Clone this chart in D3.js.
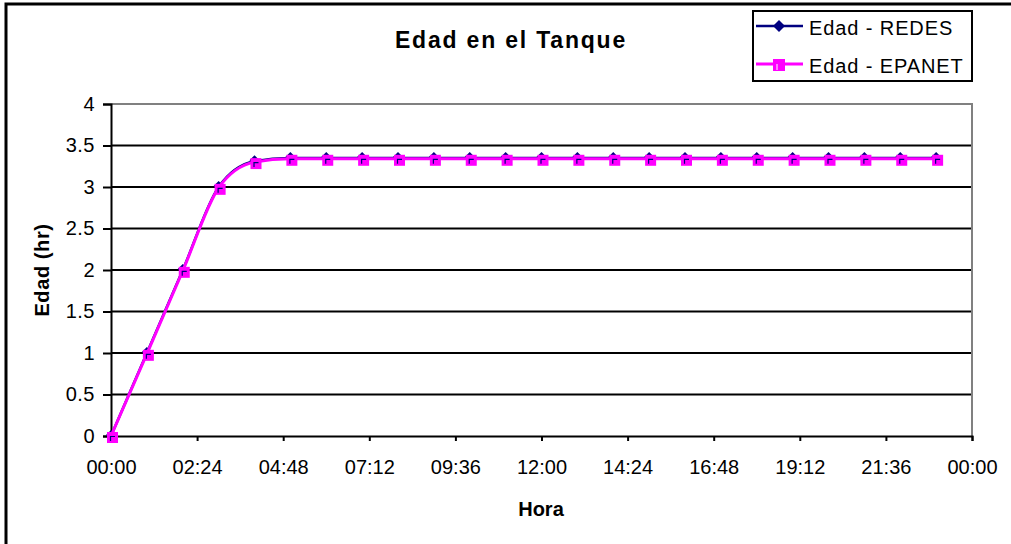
<!DOCTYPE html>
<html>
<head>
<meta charset="utf-8">
<script src="https://cdn.jsdelivr.net/npm/d3@7"></script>
<style>
  html, body { margin: 0; padding: 0; background: #fff; }
  svg { display: block; font-family: Arial, "Liberation Sans", sans-serif; }
</style>
</head>
<body>
<svg id="chart" width="1011" height="544"></svg>
<script>
// Hours of the simulation (one reading per hour)
const hours = [0, 1, 2, 3, 4, 5, 6, 7, 8, 9, 10, 11, 12, 13, 14, 15, 16, 17, 18, 19, 20, 21, 22, 23];

// Water age in the tank (hr)
const edadRedes  = [0, 1.00, 2.00, 3.00, 3.31, 3.35, 3.35, 3.35, 3.35, 3.35, 3.35, 3.35,
                    3.35, 3.35, 3.35, 3.35, 3.35, 3.35, 3.35, 3.35, 3.35, 3.35, 3.35, 3.35];
const edadEpanet = [0, 0.99, 1.99, 2.99, 3.30, 3.34, 3.34, 3.34, 3.34, 3.34, 3.34, 3.34,
                    3.34, 3.34, 3.34, 3.34, 3.34, 3.34, 3.34, 3.34, 3.34, 3.34, 3.34, 3.34];

// Axis ticks
const xTickHours  = [0, 2.4, 4.8, 7.2, 9.6, 12, 14.4, 16.8, 19.2, 21.6, 24];
const xTickLabels = ["00:00", "02:24", "04:48", "07:12", "09:36", "12:00", "14:24", "16:48", "19:12", "21:36", "00:00"];
const yTicks      = [0, 0.5, 1, 1.5, 2, 2.5, 3, 3.5, 4];

const seriesNames = ["Edad - REDES", "Edad - EPANET"];

const svg = d3.select("#chart");

// Outer chart frame
svg.append("rect")
  .attr("x", 6).attr("y", 4).attr("width", 1030).attr("height", 570)
  .attr("fill", "#fff").attr("stroke", "#000").attr("stroke-width", 3);

const plot = { left: 111, right: 972, top: 104, bottom: 436 };

const x = d3.scaleLinear().domain([0, 24]).range([plot.left, plot.right]);
const y = d3.scaleLinear().domain([0, 4]).range([plot.bottom, plot.top]);

// Horizontal gridlines
svg.append("g")
  .selectAll("line")
  .data(yTicks.filter(v => v > 0 && v < 4))
  .join("line")
  .attr("x1", plot.left).attr("x2", plot.right)
  .attr("y1", d => y(d)).attr("y2", d => y(d))
  .attr("stroke", "#000").attr("stroke-width", 2);

// Plot-area border (top and right)
svg.append("path")
  .attr("d", `M${plot.left},${plot.top}H${plot.right}V${plot.bottom}`)
  .attr("fill", "none").attr("stroke", "#808080").attr("stroke-width", 2);

// Y axis
const yAxis = svg.append("g")
  .attr("transform", `translate(${plot.left},0)`)
  .call(d3.axisLeft(y).tickValues(yTicks).tickSize(8).tickPadding(8).tickFormat(d3.format("")));
yAxis.select(".domain").attr("stroke", "#000").attr("stroke-width", 2);
yAxis.selectAll(".tick line").attr("stroke", "#000").attr("stroke-width", 2);
yAxis.selectAll(".tick text")
  .attr("font-size", 20).attr("fill", "#000").attr("letter-spacing", 0.5)
  .attr("font-family", "Arial, 'Liberation Sans', sans-serif");

// X axis
const xAxis = svg.append("g")
  .attr("transform", `translate(0,${plot.bottom})`)
  .call(d3.axisBottom(x).tickValues(xTickHours).tickSize(5).tickPadding(19)
    .tickFormat((d, i) => xTickLabels[i]));
xAxis.select(".domain").attr("stroke", "#000").attr("stroke-width", 2);
xAxis.selectAll(".tick line").attr("stroke", "#000").attr("stroke-width", 2);
xAxis.selectAll(".tick text")
  .attr("font-size", 20).attr("fill", "#000")
  .attr("font-family", "Arial, 'Liberation Sans', sans-serif");

// Series lines
const line = d3.line().x(d => x(d[0])).y(d => y(d[1])).curve(d3.curveMonotoneX);
const redesPts  = hours.map((h, i) => [h, edadRedes[i]]);
const epanetPts = hours.map((h, i) => [h, edadEpanet[i]]);

svg.append("path").datum(redesPts)
  .attr("d", line).attr("fill", "none")
  .attr("stroke", "#000080").attr("stroke-width", 2.5);

const diamond = (cx, cy, r) => `M${cx},${cy - r}L${cx + r},${cy}L${cx},${cy + r}L${cx - r},${cy}Z`;

svg.append("g").selectAll("path")
  .data(redesPts).join("path")
  .attr("d", d => diamond(x(d[0]), y(d[1]) - 1, 5))
  .attr("fill", "#000080");

svg.append("path").datum(epanetPts)
  .attr("d", line).attr("fill", "none")
  .attr("stroke", "#ff00ff").attr("stroke-width", 3);

// Square markers with a small inner corner stroke
function squareMarker(g, cx, cy) {
  g.append("rect")
    .attr("x", cx - 4).attr("y", cy - 4).attr("width", 11).attr("height", 11)
    .attr("fill", "#ff00ff");
  g.append("path")
    .attr("d", `M${cx - 0.5},${cy + 5}V${cy + 0.5}H${cx + 4}`)
    .attr("fill", "none").attr("stroke", "#000080").attr("stroke-width", 1.2);
}
const sq = svg.append("g");
epanetPts.forEach(d => squareMarker(sq, x(d[0]), y(d[1])));

// Titles
svg.append("text")
  .attr("x", 511).attr("y", 48)
  .attr("text-anchor", "middle")
  .attr("font-size", 23).attr("font-weight", "bold")
  .attr("letter-spacing", 1.8)
  .text("Edad en el Tanque");

svg.append("text")
  .attr("x", 541).attr("y", 516)
  .attr("text-anchor", "middle")
  .attr("font-size", 20).attr("font-weight", "bold")
  .text("Hora");

svg.append("text")
  .attr("transform", "translate(49,270) rotate(-90)")
  .attr("text-anchor", "middle")
  .attr("font-size", 20).attr("font-weight", "bold")
  .attr("letter-spacing", 0.6)
  .text("Edad (hr)");

// Legend
const legend = svg.append("g");
legend.append("rect")
  .attr("x", 753).attr("y", 11).attr("width", 219).attr("height", 70)
  .attr("fill", "#fff").attr("stroke", "#000").attr("stroke-width", 2);

const legendRows = [26, 64];
legendRows.forEach((ly, i) => {
  legend.append("line")
    .attr("x1", 756).attr("x2", 803).attr("y1", ly).attr("y2", ly)
    .attr("stroke", i === 0 ? "#000080" : "#ff00ff")
    .attr("stroke-width", i === 0 ? 2.5 : 3);
  if (i === 0) {
    legend.append("path").attr("d", diamond(779, ly, 6)).attr("fill", "#000080");
  } else {
    legend.append("rect")
      .attr("x", 773).attr("y", ly - 5).attr("width", 12).attr("height", 12)
      .attr("fill", "#ff00ff");
    legend.append("path")
      .attr("d", `M777,${ly + 6}V${ly}`)
      .attr("stroke", "#ffffff").attr("stroke-width", 1);
  }
  legend.append("text")
    .attr("x", 809).attr("y", ly + 9)
    .attr("font-size", 20)
    .attr("letter-spacing", 0.9)
    .text(seriesNames[i]);
});
</script>
</body>
</html>
